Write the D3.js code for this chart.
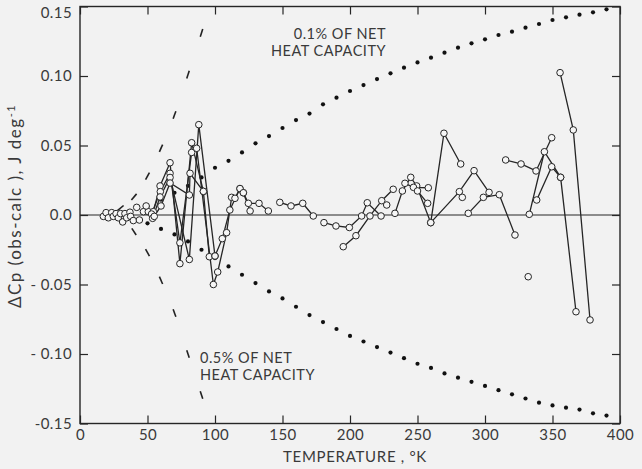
<!DOCTYPE html>
<html><head><meta charset="utf-8">
<script src="https://cdn.jsdelivr.net/npm/d3@7"></script>
<style>
html,body{margin:0;padding:0;background:#f2f2f2;}
svg{display:block;}
text{font-family:Lato,"Liberation Sans",sans-serif;fill:#3a3a3a;}
</style></head><body>
<svg id="c" width="642" height="469"></svg>
<script>
// ---- data ----
const xTicks = [0,50,100,150,200,250,300,350,400];
const yTicks = [0.15,0.10,0.05,0.0,-0.05,-0.10,-0.15];
const yTickLabels = ["0.15","0.10","0.05","0.0","- 0.05","- 0.10","-0.15"];

// 0.1% of net heat capacity (dotted curves)
const dotT = [50,60,70,80,90,100,110,120,130,140,150,160,170,180,190,200,210,220,230,240,250,260,270,280,290,300,310,320,330,340,350,360,370,380,390];
const dotUpper = [0.006,0.011,0.016,0.021,0.027,0.034,0.039,0.045,0.0516,0.0568,0.0626,0.0683,0.073,0.0796,0.0844,0.0892,0.0935,0.0978,0.1019,0.106,0.1098,0.1132,0.1168,0.1204,0.1235,0.1264,0.1295,0.1319,0.1348,0.1374,0.1403,0.1422,0.1441,0.1458,0.148];
const dotLower = [-0.006,-0.010,-0.014,-0.019,-0.025,-0.031,-0.037,-0.043,-0.049,-0.055,-0.060,-0.066,-0.072,-0.077,-0.082,-0.087,-0.091,-0.095,-0.099,-0.103,-0.107,-0.110,-0.114,-0.117,-0.120,-0.123,-0.126,-0.129,-0.132,-0.135,-0.137,-0.1386,-0.140,-0.1427,-0.1443];

// 0.5% of net heat capacity (dashed curves)
const dashUpperT = [30,40,50,60,70,80,90];
const dashUpper = [0.005,0.013,0.028,0.048,0.072,0.101,0.131];
const dashLowerT = [40,50,60,70,80,90];
const dashLower = [-0.012,-0.027,-0.047,-0.0705,-0.100,-0.1295];

// isolated points
const looseT = [17.3,19.3,21,23.5,24.7,26.7,28.4,30.1,31.6,33.3,34.6,37,37.5,39.5,42,44,49,227.2,283.2,332];
const looseV = [-0.001,0.0017,-0.002,0.0017,-0.001,0.001,-0.002,0.001,-0.005,0.001,-0.002,0.002,-0.001,-0.004,0.0055,-0.0036,0.0065,0.0072,0.0127,-0.0444];

// experimental series (connected)
const s1T = [47,50.6,54.3,59.3,66.7,74,82.7,91.4,95.8,100,105.4,111,118.5,121,126];
const s1V = [0.0024,0.0024,0.0024,0.0209,0.0376,-0.035,0.052,0.017,-0.030,-0.0295,-0.017,0.0036,0.019,0.016,0.0029];
const s2T = [53,59.5,66.7,74,82.7,86.4,98.8,102,108.6,112.3,114.8,118.5];
const s2V = [0.0007,0.0168,0.030,-0.020,0.045,0.048,-0.050,-0.041,-0.0127,0.0127,0.012,0.019];
const s3T = [53.8,59.3,66.7,81,88,100];
const s3V = [-0.0024,0.013,0.027,-0.032,0.065,-0.0295];
const s4T = [55,60,66.7,81,81.5,91.4];
const s4V = [-0.001,0.0065,0.023,0.0144,0.030,0.017];
const s5T = [121,124.7,132.6,139.5];
const s5V = [0.016,0.0084,0.0084,0.0029];
const s6T = [148,156.3,165,172.8];
const s6V = [0.0091,0.0065,0.0084,-0.0007];
const s7T = [180.7,189.6,199.5,208.6,212.8,223];
const s7V = [-0.0055,-0.0079,-0.009,-0.0007,0.0088,-0.0007];
const s8T = [195,204.4,214.8,223.5,232];
const s8V = [-0.0228,-0.0149,-0.0007,0.0103,0.0185];
const s9T = [233.3,238.8,245,249.4,259.8,269.6,282];
const s9V = [0.0012,0.0173,0.0271,0.0209,-0.0055,0.0588,0.0367];
const s10T = [240.7,247,258];
const s10V = [0.0228,0.0199,0.0196];
const s11T = [250,257.5];
const s11V = [0.0173,0.0084];
const s12T = [259.8,281,291.9,303];
const s12V = [-0.0055,0.0168,0.0319,0.0163];
const s13T = [287.6,298.8,310.6,322.2];
const s13V = [0.0012,0.0127,0.0146,-0.0144];
const s14T = [315.3,326.7,337.8,349.4];
const s14V = [0.0396,0.0367,0.0317,0.0556];
const s15T = [332.8,344,356,367.4];
const s15V = [0.0005,0.0455,0.0271,-0.0696];
const s16T = [338.3,349.4,356];
const s16V = [0.0108,0.0347,0.0271];
const s17T = [355.6,365.4,377.8];
const s17V = [0.1024,0.0612,-0.0755];

const seriesT = [s1T,s2T,s3T,s4T,s5T,s6T,s7T,s8T,s9T,s10T,s11T,s12T,s13T,s14T,s15T,s16T,s17T];
const seriesV = [s1V,s2V,s3V,s4V,s5V,s6V,s7V,s8V,s9V,s10V,s11V,s12V,s13V,s14V,s15V,s16V,s17V];

// ---- drawing ----
const svg = d3.select("#c");
const L=80,R=620,T=6.5,B=423.5;
const x = d3.scaleLinear().domain([0,400]).range([L,R]);
const y = d3.scaleLinear().domain([-0.15,0.15]).range([B,T]);
const ink = "#262626";
const txt = "#404040";

// frame
svg.append("rect").attr("x",L).attr("y",T).attr("width",R-L).attr("height",B-T)
  .attr("fill","none").attr("stroke",ink).attr("stroke-width",1.4);

// axes (ticks pointing inward)
const tickLen = 8;
const axB = svg.append("g").attr("transform",`translate(0,${B})`)
  .call(d3.axisBottom(x).tickValues(xTicks).tickSizeInner(-tickLen).tickSizeOuter(0).tickPadding(6).tickFormat(d3.format("d")));
const axT = svg.append("g").attr("transform",`translate(0,${T})`)
  .call(d3.axisTop(x).tickValues(xTicks).tickSizeInner(-tickLen).tickSizeOuter(0).tickFormat(""));
const axL = svg.append("g").attr("transform",`translate(${L},0)`)
  .call(d3.axisLeft(y).tickValues(yTicks).tickSizeInner(-tickLen).tickSizeOuter(0).tickPadding(8).tickFormat((d,i)=>yTickLabels[i]));
const axR = svg.append("g").attr("transform",`translate(${R},0)`)
  .call(d3.axisRight(y).tickValues(yTicks).tickSizeInner(-tickLen).tickSizeOuter(0).tickFormat(""));
[axB,axT,axL,axR].forEach(g=>{
  g.select(".domain").remove();
  g.selectAll(".tick line").attr("stroke",ink).attr("stroke-width",1.2);
  g.selectAll("text").attr("font-size",15).attr("fill",txt).attr("letter-spacing",0.4)
    .attr("font-family","Lato, 'Liberation Sans', sans-serif");
});
// keep the top label inside the picture
axL.selectAll(".tick").filter(d=>d===0.15).select("text").attr("dy","0.7em");

// zero line
svg.append("line").attr("x1",x(0)).attr("x2",x(400)).attr("y1",y(0)).attr("y2",y(0))
  .attr("stroke",ink).attr("stroke-width",1.2);

// dotted curves
const dotsG = svg.append("g").attr("fill","#111");
dotT.forEach((t,i)=>{
  dotsG.append("circle").attr("cx",x(t)).attr("cy",y(dotUpper[i])).attr("r",2.1);
  dotsG.append("circle").attr("cx",x(t)).attr("cy",y(dotLower[i])).attr("r",2.1);
});

// dashed curves: short dash at each point, oriented along curve
function dashes(ts,vs){
  const g = svg.append("g").attr("stroke","#222").attr("stroke-width",1.6);
  ts.forEach((t,i)=>{
    const a = i>0?i-1:i, b = i<ts.length-1?i+1:i;
    let dx = x(ts[b])-x(ts[a]), dy = y(vs[b])-y(vs[a]);
    const len = Math.hypot(dx,dy); dx/=len; dy/=len;
    const h = 4;
    const cx = x(t), cy = y(vs[i]);
    g.append("line").attr("x1",cx-dx*h).attr("y1",cy-dy*h).attr("x2",cx+dx*h).attr("y2",cy+dy*h);
  });
}
dashes(dashUpperT,dashUpper);
dashes(dashLowerT,dashLower);

// series lines
const line = d3.line().x(d=>x(d[0])).y(d=>y(d[1]));
seriesT.forEach((ts,k)=>{
  const pts = ts.map((t,i)=>[t,seriesV[k][i]]);
  svg.append("path").attr("d",line(pts)).attr("fill","none").attr("stroke",ink).attr("stroke-width",1.3);
});
// markers
const mk = svg.append("g").attr("fill","#f6f6f6").attr("stroke",ink).attr("stroke-width",1);
seriesT.forEach((ts,k)=>{
  ts.forEach((t,i)=>mk.append("circle").attr("cx",x(t)).attr("cy",y(seriesV[k][i])).attr("r",3.3));
});
looseT.forEach((t,i)=>mk.append("circle").attr("cx",x(t)).attr("cy",y(looseV[i])).attr("r",3.3));

// annotations
const ann = svg.append("g").attr("font-size",14.5).attr("fill",txt).attr("letter-spacing",0.5);
ann.append("text").attr("x",386).attr("y",39).attr("text-anchor","end").text("0.1% OF NET");
ann.append("text").attr("x",386).attr("y",56).attr("text-anchor","end").text("HEAT CAPACITY");
ann.append("text").attr("x",200).attr("y",363).text("0.5% OF NET");
ann.append("text").attr("x",200).attr("y",380).text("HEAT CAPACITY");

// axis titles
svg.append("text").attr("x",355).attr("y",462).attr("text-anchor","middle").attr("font-size",15)
  .attr("letter-spacing",0.7).attr("fill",txt).text("TEMPERATURE , °K");
const yt = svg.append("text").attr("transform",`translate(21,206) rotate(-90)`).attr("text-anchor","middle")
  .attr("font-size",17).attr("letter-spacing",1.5).attr("fill",txt);
yt.append("tspan").text("ΔCp (obs-calc ), J deg");
yt.append("tspan").attr("baseline-shift","super").attr("font-size",11).text("-1");
</script>
</body></html>
